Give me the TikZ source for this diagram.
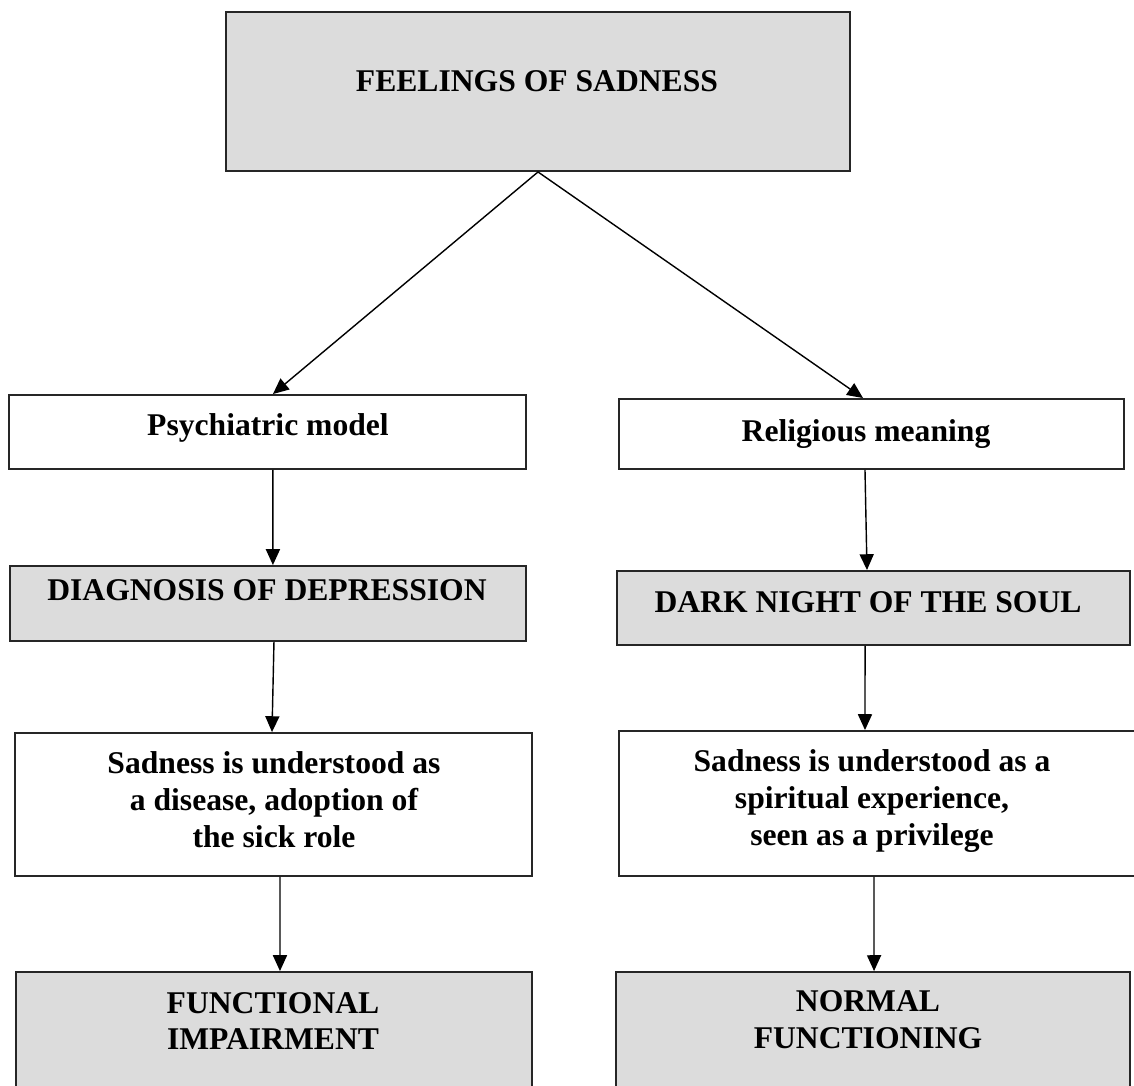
\documentclass[tikz,border=0pt]{standalone}
\usepackage{fontspec}
\setmainfont{Liberation Serif}
\usetikzlibrary{arrows.meta}
\definecolor{boxgray}{RGB}{220,220,220}

\begin{document}
\begin{tikzpicture}[x=0.02cm,y=-0.02cm,>={Triangle[length=9pt,width=8pt]},
	thick,box/.style = {rectangle,draw=black!85,line width=1.1pt,inner sep=0pt},
	gray box/.style = {box,fill=boxgray},
	white box/.style = {box,fill=white},
	box text/.style = {inner sep=0pt,align=center,font=\fontsize{18}{21}\selectfont\bfseries}]
	
	\useasboundingbox (0,0) rectangle (1134,1086);
	\clip (0,0) rectangle (1134,1086);
	
	\node[gray box,minimum width=12.48cm,minimum height=3.18cm] at (538,91.5) (1) {};
	\node[white box,minimum width=10.34cm,minimum height=1.48cm] at (267.5,432) (2) {};
	\node[white box,minimum width=10.10cm,minimum height=1.40cm] at (871.5,434) (3) {};
	\node[gray box,minimum width=10.32cm,minimum height=1.50cm] at (268,603.5) (4) {};
	\node[gray box,minimum width=10.26cm,minimum height=1.48cm] at (873.5,608) (5) {};
	\node[white box,minimum width=10.34cm,minimum height=2.86cm] at (273.5,804.5) (6) {};
	\node[white box,minimum width=10.62cm,minimum height=2.90cm] at (884.5,803.5) (7) {};
	\node[gray box,minimum width=10.32cm,minimum height=2.76cm] at (274,1041) (8) {};
	\node[gray box,minimum width=10.28cm,minimum height=2.76cm] at (873,1041) (9) {};
	
	\node[box text,anchor=base] at (537,91) (10) {FEELINGS OF SADNESS};
	\node[box text,anchor=base] at (268,435) (11) {Psychiatric model};
	\node[box text,anchor=base] at (866,441) (12) {Religious meaning};
	\node[box text,anchor=base] at (267,600) (13) {DIAGNOSIS OF DEPRESSION};
	\node[box text,anchor=base] at (868,612) (14) {DARK NIGHT OF THE SOUL};
	\node[box text] at (274,800) (15) {Sadness is understood as\\a disease, adoption of\\the sick role};
	\node[box text] at (872,801) (16) {Sadness is understood as a\\spiritual experience,\\seen as a privilege};
	\node[box text] at (273,1021) (17) {FUNCTIONAL\\IMPAIRMENT};
	\node[box text] at (868,1020) (18) {NORMAL\\FUNCTIONING};
	
	\path[->]
	(1.south) edge ([xshift=3.1pt]2.north)
	edge ([xshift=-4.8pt]3.north)
	([xshift=3.1pt]2.south) edge ([xshift=2.8pt]4.north)
	([xshift=3.4pt]4.south) edge ([xshift=-0.85pt]6.north)
	([xshift=3.7pt]6.south) edge ([xshift=3.4pt]8.north)
	([xshift=-3.7pt]3.south) edge ([xshift=-3.7pt]5.north)
	([xshift=-4.8pt]5.south) edge ([xshift=-11.1pt]7.north)
	([xshift=-6pt]7.south) edge ([xshift=0.6pt]9.north);
\end{tikzpicture}
\end{document}
